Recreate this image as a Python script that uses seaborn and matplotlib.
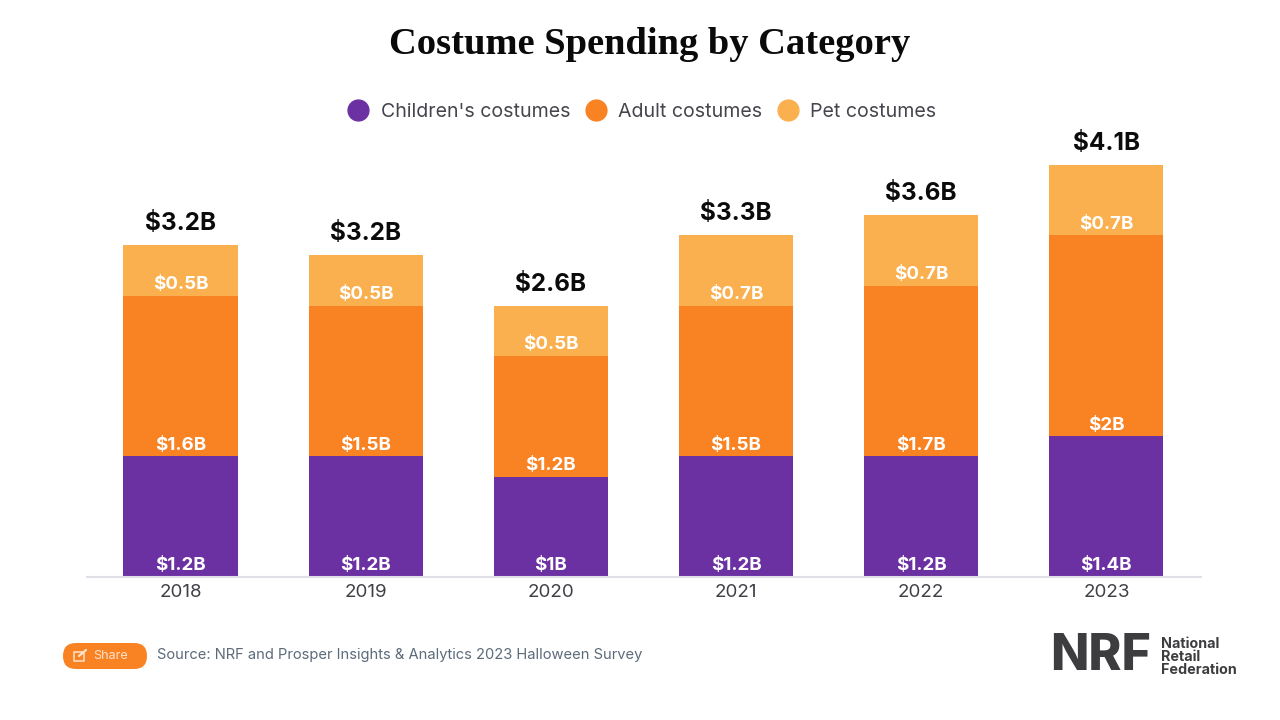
import matplotlib
matplotlib.use("Agg")
import matplotlib.pyplot as plt
from matplotlib.lines import Line2D
from matplotlib.patches import FancyBboxPatch, Rectangle
from matplotlib.transforms import IdentityTransform
import seaborn as sns
import pandas as pd

years = ["2018", "2019", "2020", "2021", "2022", "2023"]
children = [1.2, 1.2, 1.0, 1.2, 1.2, 1.4]
adult = [1.6, 1.5, 1.2, 1.5, 1.7, 2.0]
pet = [0.5, 0.5, 0.5, 0.7, 0.7, 0.7]
children_labels = ["$1.2B", "$1.2B", "$1B", "$1.2B", "$1.2B", "$1.4B"]
adult_labels = ["$1.6B", "$1.5B", "$1.2B", "$1.5B", "$1.7B", "$2B"]
pet_labels = ["$0.5B", "$0.5B", "$0.5B", "$0.7B", "$0.7B", "$0.7B"]
total_labels = ["$3.2B", "$3.2B", "$2.6B", "$3.3B", "$3.6B", "$4.1B"]
series_names = ["Children's costumes", "Adult costumes", "Pet costumes"]
colors = ["#6B31A3", "#F98223", "#FBB04F"]

sns.set_theme(style="white")
plt.rcParams["font.family"] = ["Inter", "DejaVu Sans"]
W, H = 1280, 720
fig = plt.figure(figsize=(W / 100, H / 100), dpi=100, facecolor="white")
ax = fig.add_axes([87 / W, 1 - 577 / H, (1201 - 87) / W, 430 / H])

df = pd.DataFrame({"year": years, "children": children, "adult": adult, "pet": pet})
bottom = [0.0] * len(years)
tops = []
for col, color in zip(["children", "adult", "pet"], colors):
    sns.barplot(data=df, x="year", y=col, color=color, width=0.616, bottom=bottom,
                saturation=1, errorbar=None, ax=ax, linewidth=0)
    bottom = [b + v for b, v in zip(bottom, df[col])]
    tops.append(list(bottom))

ax.set_xlim(-0.505, 5.511)
ax.set_ylim(0, 430 / 100.5)
ax.set_xlabel("")
ax.set_ylabel("")
ax.set_yticks([])
for s in ["top", "left", "right"]:
    ax.spines[s].set_visible(False)
ax.spines["bottom"].set_color("#DFE1E6")
ax.spines["bottom"].set_linewidth(1.5)
ax.tick_params(axis="x", length=0, pad=5, labelsize=13.5, labelcolor="#3F3F46")

lab_kw = dict(ha="center", va="center", color="white", fontsize=13.5, fontweight="bold")
for i in range(len(years)):
    # labels sit just above the bottom edge of each segment
    ax.annotate(children_labels[i], (i, 0), xytext=(0, 8.5), textcoords="offset points", **lab_kw)
    ax.annotate(adult_labels[i], (i, tops[0][i]), xytext=(0, 8), textcoords="offset points", **lab_kw)
    ax.annotate(pet_labels[i], (i, tops[1][i]), xytext=(0, 8), textcoords="offset points", **lab_kw)
    ax.annotate(total_labels[i], (i, tops[2][i]), xytext=(0, 15.5), textcoords="offset points",
                ha="center", va="center", color="#0B0B0B", fontsize=17.5, fontweight="bold")

fig.text(649.5 / W, 1 - 44 / H, "Costume Spending by Category", ha="center", va="center",
         family="Liberation Serif", fontweight="bold", fontsize=27.7, color="#0A0A0A")

handles = [Line2D([], [], ls="", marker="o", ms=15, mfc=c, mec=c) for c in colors]
fig.legend(handles, series_names, loc="center", bbox_to_anchor=(640 / W, 1 - 112 / H), ncol=3,
           frameon=False, fontsize=14.1, labelcolor="#45454D", columnspacing=0.55, handletextpad=0.4,
           handlelength=1.5)

# share button, drawn in pixel coordinates so its ends are true semicircles
btn = FancyBboxPatch((63, H - 669), 84, 26, transform=IdentityTransform(),
                     boxstyle="round,pad=0,rounding_size=13", fc="#F98223", ec="none")
fig.add_artist(btn)
fig.add_artist(Rectangle((74 / W, 1 - 661 / H), 10 / W, 9 / H, transform=fig.transFigure,
                         fc="none", ec="#FFE3CC", lw=1.1))
fig.add_artist(Line2D([79 / W, 86 / W], [1 - 656 / H, 1 - 650 / H], transform=fig.transFigure,
                      color="#FFE3CC", lw=1.6))
fig.text(111 / W, 1 - 656 / H, "Share", ha="center", va="center", color="#FFE3CC", fontsize=9)
fig.text(157 / W, 1 - 655 / H, "Source: NRF and Prosper Insights & Analytics 2023 Halloween Survey",
         ha="left", va="center", color="#5C6B7A", fontsize=10.6)

fig.text(1050 / W, 1 - 657 / H, "NRF", ha="left", va="center", color="#3D3D40",
         family="Inter", fontweight="heavy", fontsize=36)
for yy, t in zip([644, 657, 670], ["National", "Retail", "Federation"]):
    fig.text(1161 / W, 1 - yy / H, t, ha="left", va="center", color="#3D3D40",
             fontweight="bold", fontsize=10.3)

fig.savefig("out.png", dpi=100, facecolor="white")
